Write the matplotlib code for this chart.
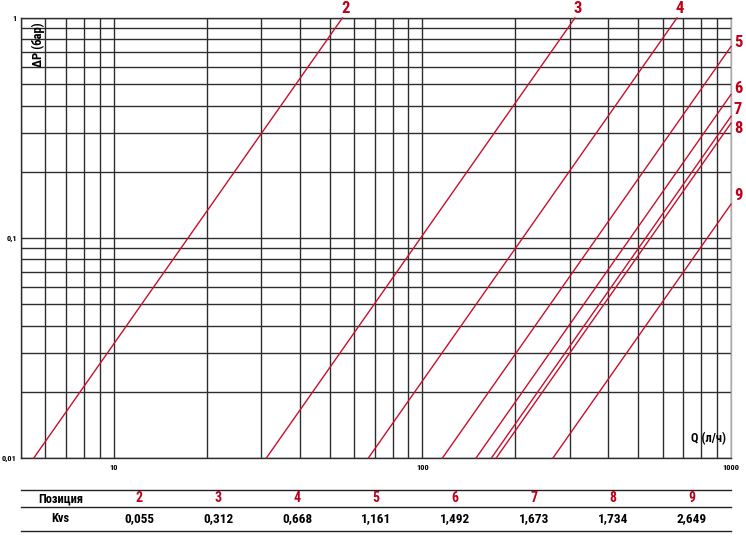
import numpy as np
import matplotlib
matplotlib.use("Agg")
import matplotlib.pyplot as plt
from matplotlib.lines import Line2D

# ---- data ----
positions = ["2", "3", "4", "5", "6", "7", "8", "9"]
kvs = [0.055, 0.312, 0.668, 1.161, 1.492, 1.673, 1.734, 2.649]
kvs_labels = ["0,055", "0,312", "0,668", "1,161", "1,492", "1,673", "1,734", "2,649"]
x_ticks = [10, 100, 1000]
x_tick_labels = ["10", "100", "1000"]
y_ticks = [0.01, 0.1, 1]
y_tick_labels = ["0,01", "0,1", "1"]
x_min, x_max = 5, 1000
y_min, y_max = 0.01, 1

# label offsets (points) for lines ending on the right edge
right_label_dy = {"5": 3, "6": 4, "7": 5, "8": -4, "9": 6}

plt.rcParams['font.family'] = ['Roboto Condensed', 'PT Sans Narrow', 'Open Sans Condensed',
                               'Barlow Condensed', 'DejaVu Sans']

RED = '#c8102e'
LBL = '#c00018'
GRID = '#2e2e2e'

fig = plt.figure(figsize=(7.46, 5.42), dpi=100)
ax = fig.add_axes([21/746, 1 - 458/542, 710/746, 440/542])
ax.set_xscale('log')
ax.set_yscale('log')
ax.set_xlim(x_min, x_max)
ax.set_ylim(y_min, y_max)

ax.set_xticks(x_ticks)
ax.set_xticklabels(x_tick_labels, fontsize=6, fontweight='bold')
ax.set_yticks(y_ticks)
ax.set_yticklabels(y_tick_labels, fontsize=6, fontweight='bold')
ax.tick_params(axis='x', which='both', length=0, pad=4)
ax.tick_params(axis='y', which='both', length=0, pad=3)
ax.xaxis.set_minor_formatter(matplotlib.ticker.NullFormatter())
ax.yaxis.set_minor_formatter(matplotlib.ticker.NullFormatter())
ax.grid(True, which='both', color=GRID, linewidth=1.0)
for s in ax.spines.values():
    s.set_color(GRID)
    s.set_linewidth(1.0)
ax.spines['right'].set_color('#aaaaaa')

# ΔP (bar) = (Q[l/h] / 1000 / Kvs)^2
for pos, k in zip(positions, kvs):
    q_lo = max(x_min, 1000 * k * np.sqrt(y_min))
    q_hi = min(x_max, 1000 * k * np.sqrt(y_max))
    q = np.array([q_lo, q_hi])
    dp = (q / 1000 / k) ** 2
    ax.plot(q, dp, color=RED, linewidth=1.0, clip_on=False, zorder=3)
    if q_hi < x_max:
        ax.annotate(pos, (q_hi, y_max), xytext=(2, 1.5), textcoords='offset points',
                    ha='center', va='bottom', color=LBL, fontsize=12, fontweight='bold',
                    annotation_clip=False)
    else:
        ax.annotate(pos, (x_max, dp[-1]), xytext=(5, right_label_dy.get(pos, 3)),
                    textcoords='offset points',
                    ha='center', va='center', color=LBL, fontsize=12, fontweight='bold',
                    annotation_clip=False)

ax.text(0.024, 0.99, "ΔP (бар)", transform=ax.transAxes, rotation=90,
        ha='center', va='top', fontsize=9, fontweight='bold')
ax.text(0.993, 0.03, "Q (л/ч)", transform=ax.transAxes,
        ha='right', va='bottom', fontsize=9, fontweight='bold')

# ---- table ----
W, H = 746, 542
x0, x1 = 21, 731
for yl in (490, 507, 531):
    fig.add_artist(Line2D([x0 / W, x1 / W], [1 - yl / H, 1 - yl / H],
                          color='#222222', linewidth=1.0))
ncol = len(positions) + 1
cw = (x1 - x0) / ncol
row1_y = 1 - 498.5 / H
row2_y = 1 - 519 / H
fig.text((x0 + cw / 2) / W, row1_y, "Позиция", ha='center', va='center',
         fontsize=9, fontweight='bold')
fig.text((x0 + cw / 2) / W, row2_y, "Kvs", ha='center', va='center',
         fontsize=9, fontweight='bold')
for i, (pos, lab) in enumerate(zip(positions, kvs_labels)):
    cx = (x0 + cw * (i + 1.5)) / W
    fig.text(cx, row1_y, pos, ha='center', va='center', fontsize=10,
             fontweight='bold', color=LBL)
    fig.text(cx, row2_y, lab, ha='center', va='center', fontsize=9.5,
             fontweight='bold')

fig.savefig("out.png", dpi=100)
